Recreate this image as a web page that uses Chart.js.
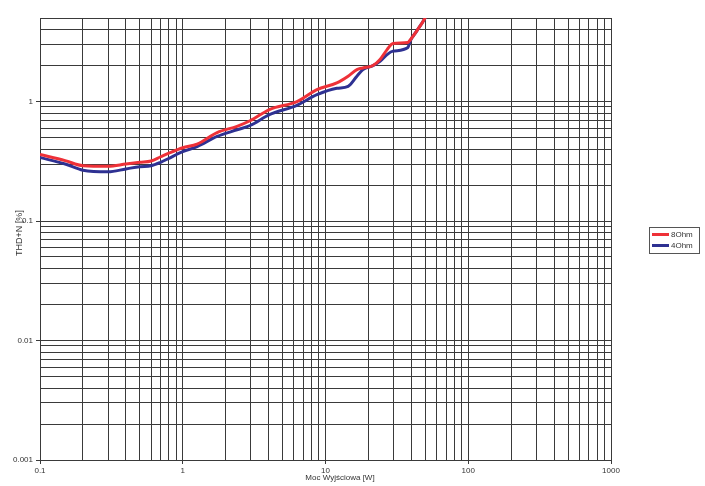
<!DOCTYPE html>
<html>
<head>
<meta charset="utf-8">
<script src="https://cdn.jsdelivr.net/npm/chart.js@4/dist/chart.umd.min.js"></script>
<style>
  html, body { margin: 0; padding: 0; background: #fff; }
  #wrap { width: 705px; height: 486px; }
</style>
</head>
<body>
<div id="wrap"><canvas id="thdChart" width="705" height="486"></canvas></div>
<script>
// Moc wyjściowa [W]
var power = [0.1, 0.15, 0.2, 0.3, 0.4, 0.5, 0.6, 0.7, 0.8, 1.0, 1.26, 1.74, 2.4, 2.96, 4.08, 6.31, 8.71, 12, 14.4, 16.6, 18.3, 21.5, 24.1, 27, 29.7, 37.8, 39.1, 43.5, 49.8, 55];
// THD+N [%]
var thd8 = [0.36, 0.32, 0.29, 0.287, 0.30, 0.31, 0.318, 0.345, 0.37, 0.41, 0.44, 0.55, 0.62, 0.69, 0.86, 1.0, 1.26, 1.43, 1.63, 1.85, 1.91, 2.0, 2.25, 2.72, 3.06, 3.12, 3.26, 3.88, 5.0, 6.5];
var thd4 = [0.34, 0.30, 0.266, 0.258, 0.273, 0.285, 0.29, 0.31, 0.335, 0.38, 0.42, 0.51, 0.58, 0.63, 0.78, 0.93, 1.14, 1.29, 1.34, 1.63, 1.85, 2.0, 2.17, 2.47, 2.64, 2.83, 3.19, 3.88, 5.0, 6.5];

var xLabels = [0.1, 1, 10, 100, 1000];
var yLabels = [0.001, 0.01, 0.1, 1];
var yMax = 5;

// linie siatki: 1..9 w każdej dekadzie
function gridTicks(from, to, max) {
    var out = [];
    for (var d = from; d < to; d *= 10) {
        for (var m = 1; m < 10; m++) {
            var v = parseFloat((m * d).toPrecision(3));
            if (v <= max) out.push(v);
        }
    }
    if (out[out.length - 1] < max) out.push(max);
    return out;
}
var xGrid = gridTicks(0.1, 1000, 1000);
var yGrid = gridTicks(0.001, 10, yMax);

function isLabel(list, v) {
    return list.some(function (l) { return Math.abs(l - v) < l * 1e-6; });
}

var fontFamily = '"Liberation Sans", Arial, sans-serif';

// opisy osi + legenda w ramce
var extras = {
    id: 'extras',
    afterDraw: function (chart) {
        var ctx = chart.ctx;
        ctx.save();
        ctx.fillStyle = '#333';
        ctx.textAlign = 'center';
        ctx.textBaseline = 'middle';
        ctx.font = '8px ' + fontFamily;
        ctx.fillText('Moc Wyjściowa [W]', 340, 477.5);

        ctx.save();
        ctx.translate(20, 233);
        ctx.rotate(-Math.PI / 2);
        ctx.font = '9px ' + fontFamily;
        ctx.fillText('THD+N [%]', 0, 0);
        ctx.restore();

        var x = 649, y = 227, w = 50, h = 26;
        ctx.fillStyle = '#fff';
        ctx.fillRect(x, y, w, h);
        ctx.strokeStyle = '#555';
        ctx.lineWidth = 1;
        ctx.strokeRect(x + 0.5, y + 0.5, w, h);
        ctx.font = '8px ' + fontFamily;
        ctx.textAlign = 'left';
        chart.data.datasets.forEach(function (ds, i) {
            var ly = y + 7.5 + i * 11;
            ctx.strokeStyle = ds.borderColor;
            ctx.lineWidth = 3;
            ctx.beginPath();
            ctx.moveTo(x + 3, ly);
            ctx.lineTo(x + 20, ly);
            ctx.stroke();
            ctx.fillStyle = '#333';
            ctx.fillText(ds.label, x + 22, ly + 0.5);
        });
        ctx.restore();
    }
};

document.addEventListener("DOMContentLoaded", function () {
    var ctx = document.getElementById('thdChart').getContext('2d');
    var gridColor = '#3a3a3a';
    var font = { family: fontFamily, size: 8 };

    new Chart(ctx, {
        type: 'line',
        data: {
            datasets: [{
                    label: '8Ohm',
                    data: power.map(function (p, i) { return { x: p, y: thd8[i] }; }),
                    borderColor: '#ee3138',
                    borderWidth: 3,
                    pointRadius: 0,
                    cubicInterpolationMode: 'monotone',
                    fill: false
                }, {
                    label: '4Ohm',
                    data: power.map(function (p, i) { return { x: p, y: thd4[i] }; }),
                    borderColor: '#2e3192',
                    borderWidth: 3,
                    pointRadius: 0,
                    cubicInterpolationMode: 'monotone',
                    fill: false
                }]
        },
        options: {
            responsive: false,
            animation: false,
            layout: { padding: { top: 18, right: 94, left: 0, bottom: 0 } },
            scales: {
                x: {
                    type: 'logarithmic',
                    min: 0.1,
                    max: 1000,
                    afterBuildTicks: function (scale) {
                        scale.ticks = xGrid.map(function (v) { return { value: v }; });
                    },
                    afterFit: function (scale) { scale.height = 26; },
                    ticks: {
                        autoSkip: false,
                        maxRotation: 0,
                        padding: 2,
                        color: '#333',
                        font: font,
                        callback: function (v) { return isLabel(xLabels, v) ? String(v) : ''; }
                    },
                    grid: {
                        color: gridColor,
                        lineWidth: 1,
                        tickLength: 4,
                        tickColor: function (c) { return c.tick && isLabel(xLabels, c.tick.value) ? gridColor : 'rgba(0,0,0,0)'; }
                    },
                    border: { color: gridColor }
                },
                y: {
                    type: 'logarithmic',
                    min: 0.001,
                    max: yMax,
                    afterBuildTicks: function (scale) {
                        scale.ticks = yGrid.map(function (v) { return { value: v }; });
                    },
                    afterFit: function (scale) { scale.width = 40; },
                    ticks: {
                        autoSkip: false,
                        padding: 3,
                        color: '#333',
                        font: font,
                        callback: function (v) { return isLabel(yLabels, v) ? String(v) : ''; }
                    },
                    grid: {
                        color: gridColor,
                        lineWidth: 1,
                        tickLength: 4,
                        tickColor: function (c) { return c.tick && isLabel(yLabels, c.tick.value) ? gridColor : 'rgba(0,0,0,0)'; }
                    },
                    border: { color: gridColor }
                }
            },
            plugins: {
                legend: { display: false },
                tooltip: { enabled: false }
            }
        },
        plugins: [extras]
    });
});
</script>
</body>
</html>
